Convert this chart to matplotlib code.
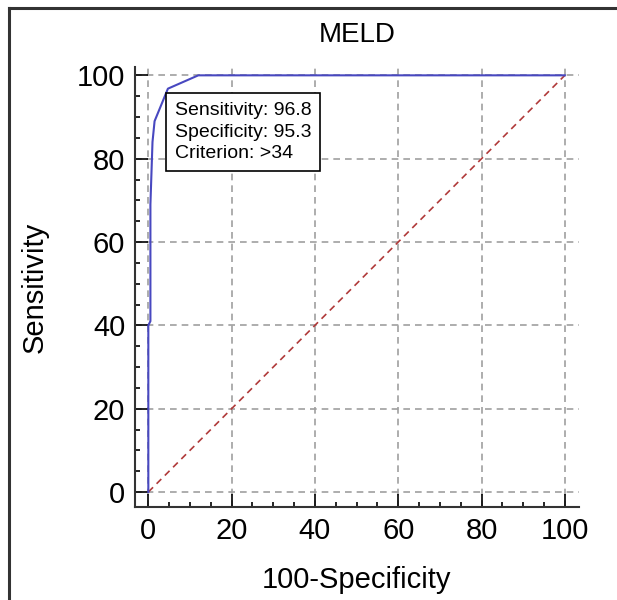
import matplotlib.pyplot as plt
from matplotlib.lines import Line2D
from matplotlib.ticker import MultipleLocator

# ROC curve (100-Specificity, Sensitivity)
fpr = [0, 0, 0.5, 0.5, 1.0, 1.5, 4.7, 12, 100]
tpr = [0, 40, 41, 69, 84, 89, 96.8, 100, 100]
diag = [0, 100]

title = "MELD"
box_lines = ["Sensitivity: 96.8", "Specificity: 95.3", "Criterion: >34"]

plt.rcParams['font.family'] = ['Liberation Sans', 'DejaVu Sans']

fig = plt.figure(figsize=(6.17, 6.0), dpi=100)
ax = fig.add_axes([135 / 617, 93 / 600, 444 / 617, 440 / 600])

# grid
for v in range(0, 101, 20):
    ax.axhline(v, color='#a0a0a0', lw=1.2, ls=(0, (4, 3)), zorder=1)
    ax.axvline(v, color='#a0a0a0', lw=1.2, ls=(0, (4, 3)), zorder=1)

ax.plot(diag, diag, color='#b03a3a', lw=1.2, ls=(0, (4, 3)), zorder=2)
ax.plot(fpr, tpr, color='#4848c0', lw=1.5, zorder=3)

ax.text(6.4, 93.6, "\n".join(box_lines), ha='left', va='top', fontsize=14,
        linespacing=1.35, zorder=4,
        bbox=dict(boxstyle='square,pad=0.45', fc='white', ec='black', lw=1.2))

ax.set_xlim(-3.2, 103.4)
ax.set_ylim(-3.6, 102)
ax.xaxis.set_major_locator(MultipleLocator(20))
ax.yaxis.set_major_locator(MultipleLocator(20))
ax.xaxis.set_minor_locator(MultipleLocator(5))
ax.yaxis.set_minor_locator(MultipleLocator(5))
ax.tick_params(which='major', direction='in', length=9.5, width=1.2,
               labelsize=21, pad=7)
ax.tick_params(which='minor', direction='in', length=3.5, width=1.2)

for side in ['top', 'right']:
    ax.spines[side].set_visible(False)
for side in ['left', 'bottom']:
    ax.spines[side].set_linewidth(1.5)
    ax.spines[side].set_color('#333333')

ax.set_title(title, fontsize=20, pad=18)
ax.set_xlabel("100-Specificity", fontsize=21, labelpad=15)
ax.set_ylabel("Sensitivity", fontsize=21, labelpad=20)

# outer frame (left and top edges only)
fig.add_artist(Line2D([9 / 617, 9 / 617], [0, 1 - 8 / 600],
                      transform=fig.transFigure, color='#333333', lw=2.2))
fig.add_artist(Line2D([9 / 617, 1], [1 - 8 / 600, 1 - 8 / 600],
                      transform=fig.transFigure, color='#333333', lw=2.2))

fig.savefig("out.png", dpi=100)
